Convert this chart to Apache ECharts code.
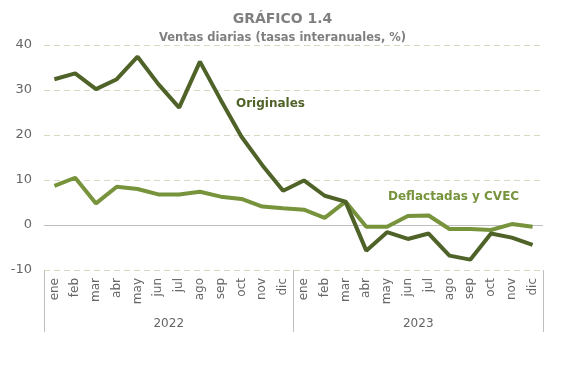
<!DOCTYPE html>
<html>
<head>
<meta charset="utf-8">
<script src="https://cdn.jsdelivr.net/npm/echarts@6/dist/echarts.min.js"></script>
<style>html,body{margin:0;padding:0;background:#fff;}#c{width:565px;height:365px;}</style>
</head>
<body>
<div id="c"></div>
<script>
const months = ['ene','feb','mar','abr','may','jun','jul','ago','sep','oct','nov','dic',
                'ene','feb','mar','abr','may','jun','jul','ago','sep','oct','nov','dic'];
const years = ['2022','2023'];
const originales = [32.4,33.7,30.2,32.4,37.4,31.3,26.1,36.3,27.8,19.6,13.3,7.6,
                    9.9,6.5,5.2,-5.7,-1.6,-3.1,-1.9,-6.8,-7.7,-1.9,-2.8,-4.4];
const deflactadas = [8.7,10.5,4.8,8.5,8.0,6.8,6.8,7.4,6.3,5.8,4.1,3.7,
                     3.4,1.6,5.2,-0.4,-0.4,2.0,2.1,-0.9,-0.9,-1.1,0.2,-0.4];
const yTicks = [-10,0,10,20,30,40];

const FONT = 'DejaVu Sans';
const chart = echarts.init(document.getElementById('c'));
chart.setOption({
  animation: false,
  backgroundColor: '#ffffff',
  title: {
    text: 'GRÁFICO 1.4',
    subtext: 'Ventas diarias (tasas interanuales, %)',
    left: 'center', top: 7, itemGap: 6,
    textStyle: {fontFamily: FONT, fontSize: 14, fontWeight: 'bold', color: '#7f7f7f'},
    subtextStyle: {fontFamily: FONT, fontSize: 11.5, fontWeight: 'bold', color: '#7f7f7f'}
  },
  grid: {left: 44, right: 22, top: 45, bottom: 95},
  xAxis: [{
    type: 'category', data: months, boundaryGap: true,
    axisLine: {show: false}, axisTick: {show: false},
    axisLabel: {rotate: 90, interval: 0, margin: 8, fontFamily: FONT, fontSize: 12, color: '#666666'}
  }, {
    type: 'category', data: years, position: 'bottom', boundaryGap: true,
    axisLine: {show: false},
    axisTick: {show: true, length: 62, lineStyle: {color: '#bfbfbf', width: 1}},
    axisLabel: {margin: 48, fontFamily: FONT, fontSize: 12, color: '#666666'}
  }],
  yAxis: {
    type: 'value', min: yTicks[0], max: yTicks[yTicks.length-1], interval: 10,
    axisLine: {show: false}, axisTick: {show: false},
    axisLabel: {margin: 12, fontFamily: FONT, fontSize: 13, color: '#666666'},
    splitLine: {lineStyle: {type: [6,4], color: '#d9d9c3', width: 1}}
  },
  series: [{
    type: 'line', data: deflactadas, symbol: 'none', z: 3,
    lineStyle: {color: '#77933c', width: 4},
    markLine: {silent: true, symbol: 'none', label: {show: false},
      lineStyle: {type: 'solid', color: '#bfbfbf', width: 1},
      data: [{yAxis: 0}], z: 1}
  }, {
    type: 'line', data: originales, symbol: 'none', z: 4,
    lineStyle: {color: '#4f6228', width: 4}
  }],
  graphic: [{
    type: 'text', left: 236, top: 98,
    style: {text: 'Originales', fontFamily: FONT, fontSize: 12, fontWeight: 'bold', fill: '#4f6228'}
  }, {
    type: 'text', left: 388, top: 191,
    style: {text: 'Deflactadas y CVEC', fontFamily: FONT, fontSize: 12, fontWeight: 'bold', fill: '#77933c'}
  }]
});
</script>
</body>
</html>
